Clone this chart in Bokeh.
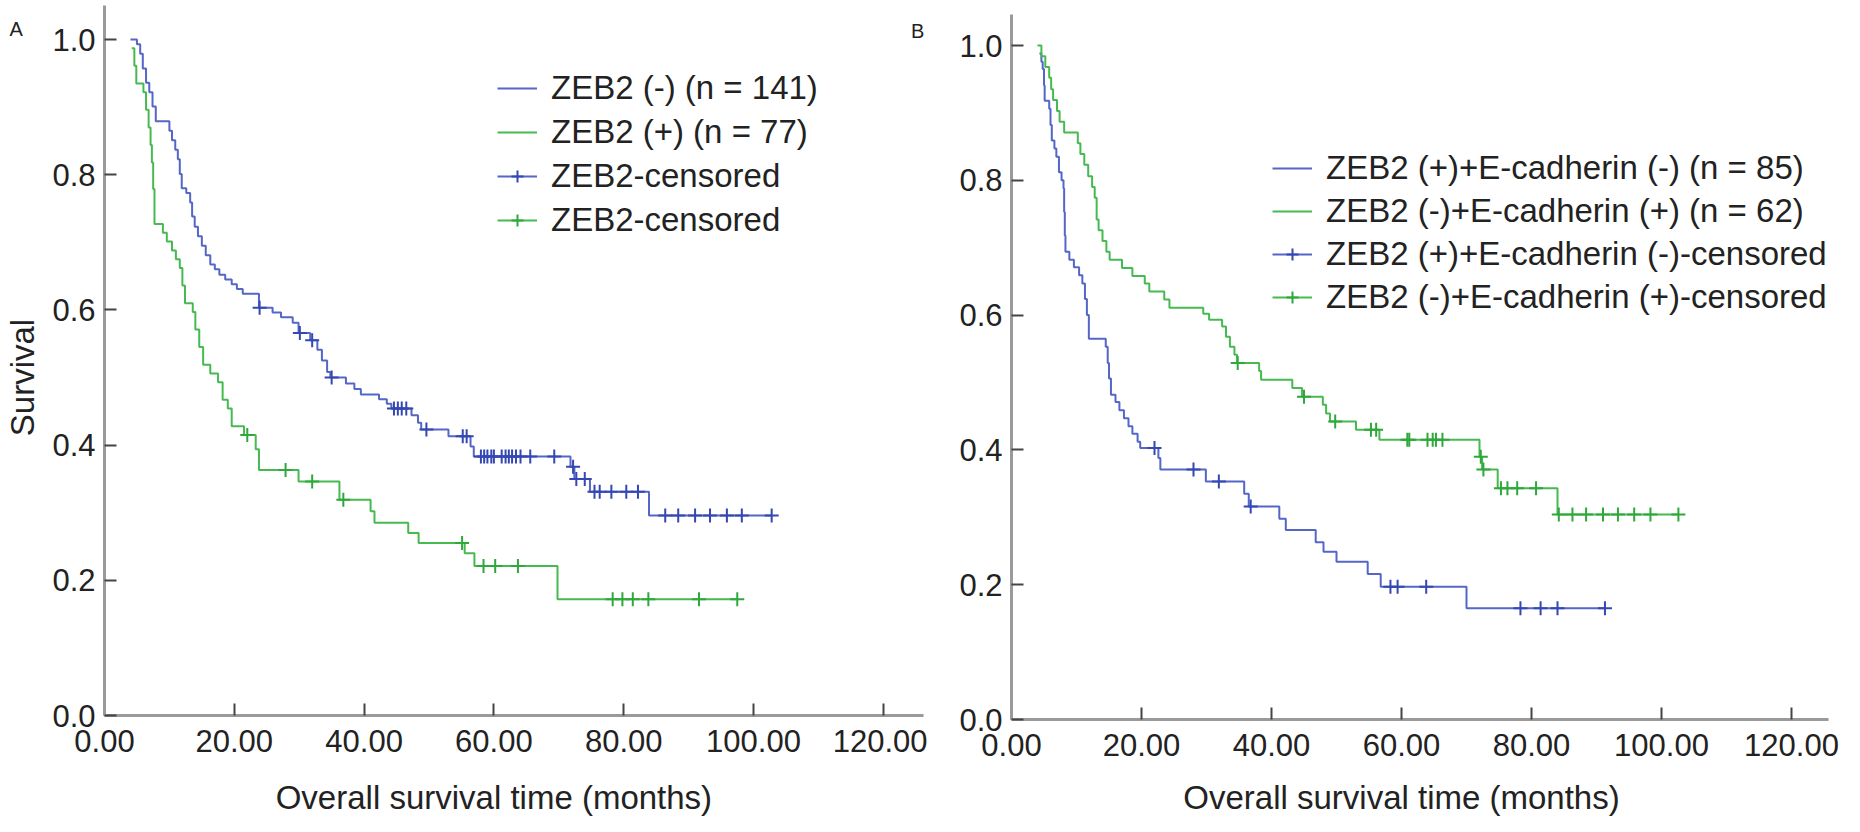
import numpy as np
from bokeh.plotting import figure
from bokeh.layouts import row
from bokeh.models import Range1d, FixedTicker, NumeralTickFormatter, Legend, LegendItem, Label
from bokeh.embed import file_html
from bokeh.resources import INLINE

# ---- Panel A: ZEB2 (-) n=141 (blue) / ZEB2 (+) n=77 (green)
a_neg_t = [4.0, 5.0, 5.5, 5.9, 6.4, 6.9, 7.4, 7.9, 10.0, 10.4, 10.9, 11.3, 11.6, 11.9, 12.6, 13.2, 13.5, 13.9,
           14.4, 15.0, 15.6, 16.3, 17.0, 17.7, 18.6, 19.6, 20.4, 21.3, 23.8, 25.9, 27.2, 29.0, 29.9, 31.7, 32.8,
           33.5, 34.3, 34.8, 37.2, 38.5, 39.5, 42.3, 43.5, 44.2, 47.3, 48.3, 48.8, 53.0, 56.4, 56.9, 71.8, 72.4,
           74.8, 83.9]
a_neg_s = [1.000, 0.993, 0.979, 0.957, 0.936, 0.922, 0.901, 0.879, 0.865, 0.851, 0.837, 0.823, 0.801, 0.780,
           0.773, 0.759, 0.738, 0.723, 0.709, 0.695, 0.681, 0.667, 0.660, 0.652, 0.645, 0.638, 0.631, 0.624,
           0.603, 0.596, 0.589, 0.581, 0.566, 0.555, 0.541, 0.525, 0.508, 0.500, 0.491, 0.483, 0.475, 0.468,
           0.461, 0.454, 0.444, 0.433, 0.423, 0.413, 0.398, 0.383, 0.368, 0.350, 0.331, 0.296]
a_neg_cens = [23.9, 30.1, 32.0, 35.0, 44.6, 45.2, 45.8, 46.5, 49.6, 55.2, 55.8, 58.0, 58.5, 59.0, 59.6, 60.0,
              61.2, 61.8, 62.3, 62.8, 63.4, 64.1, 65.6, 69.3, 72.2, 72.7, 74.0, 75.5, 76.3, 78.1, 80.4, 82.2,
              86.4, 88.4, 91.0, 93.3, 95.9, 98.2, 102.8]

a_pos_t = [4.2, 4.6, 4.9, 6.0, 6.4, 6.8, 7.1, 7.3, 7.5, 7.7, 9.0, 9.6, 10.4, 11.0, 11.6, 12.0, 12.4, 13.6, 14.0,
           14.6, 15.2, 16.3, 17.5, 18.2, 19.0, 19.6, 21.5, 23.3, 23.8, 29.9, 36.2, 41.0, 41.6, 46.8, 48.4, 55.5,
           57.0, 69.8]
a_pos_s = [0.987, 0.961, 0.935, 0.922, 0.896, 0.870, 0.844, 0.818, 0.779, 0.727, 0.714, 0.701, 0.688, 0.675,
           0.662, 0.636, 0.610, 0.597, 0.571, 0.545, 0.519, 0.506, 0.493, 0.467, 0.454, 0.428, 0.415, 0.394,
           0.363, 0.346, 0.319, 0.302, 0.285, 0.270, 0.255, 0.240, 0.221, 0.172]
a_pos_cens = [22.0, 27.9, 32.0, 36.8, 55.1, 58.4, 60.2, 63.7, 78.3, 79.8, 81.4, 83.8, 91.6, 97.5]

# ---- Panel B: ZEB2(+)E-cad(-) n=85 (blue) / ZEB2(-)E-cad(+) n=62 (green)
b_pos_t = [4.3, 4.6, 4.8, 5.0, 5.1, 5.8, 6.0, 6.2, 6.6, 6.9, 7.3, 7.7, 8.0, 8.1, 8.2, 8.3, 8.9, 9.6, 10.4, 10.9,
           11.3, 11.6, 11.9, 14.5, 14.8, 15.0, 15.3, 16.0, 16.6, 17.3, 18.0, 18.6, 19.4, 19.8, 22.6, 22.9, 29.9,
           35.8, 36.5, 41.2, 42.2, 46.8, 48.0, 50.0, 54.8, 56.8, 70.0]
b_pos_s = [0.988, 0.976, 0.965, 0.941, 0.918, 0.906, 0.882, 0.859, 0.847, 0.835, 0.812, 0.800, 0.788, 0.753,
           0.718, 0.694, 0.682, 0.671, 0.659, 0.647, 0.624, 0.600, 0.565, 0.553, 0.529, 0.506, 0.482, 0.471,
           0.459, 0.447, 0.435, 0.424, 0.412, 0.403, 0.388, 0.371, 0.353, 0.335, 0.316, 0.298, 0.281, 0.263,
           0.249, 0.234, 0.216, 0.197, 0.165]
b_pos_cens = [22.0, 28.0, 31.9, 36.8, 58.3, 59.4, 63.8, 78.3, 81.4, 84.0, 91.3]

b_neg_t = [4.0, 4.6, 5.2, 5.8, 6.1, 6.4, 7.0, 7.4, 8.1, 10.2, 10.6, 11.2, 11.8, 12.4, 12.8, 13.1, 13.4, 14.0, 14.6,
           15.1, 17.0, 18.6, 20.5, 21.2, 23.5, 24.3, 29.5, 30.4, 32.4, 33.0, 33.6, 34.3, 34.7, 38.1, 38.4, 43.2,
           44.7, 47.9, 48.4, 49.0, 53.0, 56.6, 72.0, 72.4, 74.8, 84.0]
b_neg_s = [1.000, 0.984, 0.968, 0.952, 0.935, 0.919, 0.903, 0.887, 0.871, 0.855, 0.839, 0.823, 0.806, 0.790,
           0.774, 0.742, 0.726, 0.710, 0.694, 0.682, 0.670, 0.658, 0.647, 0.635, 0.623, 0.611, 0.602, 0.593,
           0.583, 0.568, 0.553, 0.541, 0.529, 0.517, 0.504, 0.492, 0.479, 0.467, 0.454, 0.442, 0.430, 0.415,
           0.390, 0.371, 0.343, 0.304]
b_neg_cens = [34.8, 45.0, 49.8, 55.3, 56.1, 60.9, 61.2, 64.0, 64.8, 65.3, 66.3, 72.2, 72.6, 75.3, 76.3, 77.8,
              80.7, 84.2, 86.3, 88.4, 91.0, 93.3, 95.8, 98.3, 102.6]

x_ticks = [0, 20, 40, 60, 80, 100, 120]
y_ticks = [0.0, 0.2, 0.4, 0.6, 0.8, 1.0]

BLUE, BLUE_MARK = "#5466c6", "#3447b2"
GREEN, GREEN_MARK = "#46ba50", "#2fa83b"
FONT = "Liberation Sans"
H = 816


def surv_at(ts, ss, t):
    idx = np.searchsorted(ts, t, side="right") - 1
    return ss[max(idx, 0)]


def km_curve(p, ts, ss, cens, line_color, mark_color):
    end = max(cens[-1], ts[-1])
    step = p.step(ts + [end], ss + [ss[-1]], mode="after", line_color=line_color, line_width=2)
    cy = [surv_at(ts, ss, c) for c in cens]
    marks = p.scatter(cens, cy, marker="cross", size=14, line_width=2, line_color=mark_color)
    # zero-length line so the censored legend entry shows a line through the cross
    stub = p.line([cens[0], cens[0]], [cy[0], cy[0]], line_color=line_color, line_width=2)
    return step, [stub, marks]


def make_panel(width, x0_px, y0_px, px_x, px_y, x_end, y_end):
    # frame covers the whole figure; axes sit at x=0 / y=0 via fixed_location
    x_range = Range1d(-x0_px / px_x, (width - x0_px) / px_x)
    y_range = Range1d(-(H - y0_px) / px_y, y0_px / px_y)
    p = figure(width=width, height=H, x_range=x_range, y_range=y_range,
               output_backend="svg", toolbar_location=None, min_border=0)
    p.grid.visible = False
    p.outline_line_color = None
    p.background_fill_color = "white"
    p.border_fill_color = "white"
    p.xaxis.fixed_location = 0
    p.yaxis.fixed_location = 0
    p.xaxis.bounds = (0, x_end)
    p.yaxis.bounds = (0, y_end)
    p.xaxis.ticker = FixedTicker(ticks=x_ticks)
    p.yaxis.ticker = FixedTicker(ticks=y_ticks)
    p.xaxis.formatter = NumeralTickFormatter(format="0.00")
    p.yaxis.formatter = NumeralTickFormatter(format="0.0")
    for ax in (p.xaxis, p.yaxis):
        ax.axis_line_color = "#9a9a9a"
        ax.axis_line_width = 3
        ax.major_tick_in = 12
        ax.major_tick_out = 0
        ax.major_tick_line_color = "#444444"
        ax.major_tick_line_width = 2
        ax.minor_tick_line_color = None
        ax.major_label_text_font = FONT
        ax.major_label_text_font_size = "31px"
        ax.major_label_text_color = "#222222"
    p.xaxis.major_label_standoff = 14
    p.yaxis.major_label_standoff = 9
    return p


def add_text(p, x, y, text, size, angle=0.0):
    p.add_layout(Label(x=x, y=y, text=text, angle=angle, text_align="center", text_baseline="middle",
                       text_font=FONT, text_font_size=size, text_color="#222222"))


def add_legend(p, items, loc, spacing):
    leg = Legend(items=[LegendItem(label=lab, renderers=r if isinstance(r, list) else [r]) for lab, r in items],
                 location=loc, padding=0, margin=0, spacing=spacing, glyph_width=40, glyph_height=30,
                 label_height=30, label_standoff=14, border_line_color=None, background_fill_alpha=0,
                 label_text_font=FONT, label_text_font_size="33px", label_text_color="#222222")
    p.add_layout(leg)


# Panel A (page x 8..935): y axis at fig x 104, x axis at fig y 715
pa = make_panel(927, 104, 715, 6.49, 676, 126.2, 1.05)
sa1, ca1 = km_curve(pa, a_neg_t, a_neg_s, a_neg_cens, BLUE, BLUE_MARK)
sa2, ca2 = km_curve(pa, a_pos_t, a_pos_s, a_pos_cens, GREEN, GREEN_MARK)
add_legend(pa, [("ZEB2 (-) (n = 141)", sa1), ("ZEB2 (+) (n = 77)", sa2),
                ("ZEB2-censored", ca1), ("ZEB2-censored", ca2)], (497, 577), 6)
add_text(pa, 60, -0.121, "Overall survival time (months)", "33px")
add_text(pa, -12.6, 0.5, "Survival", "33px", np.pi / 2)
add_text(pa, -13.6, 1.016, "A", "20px")
add_text(pa, 125.3, 1.013, "B", "20px")

# Panel B (page x 935..1852): y axis at fig x 84, x axis at fig y 719
pb = make_panel(917, 84, 719, 6.5, 674, 125.7, 1.046)
sb1, cb1 = km_curve(pb, b_pos_t, b_pos_s, b_pos_cens, BLUE, BLUE_MARK)
sb2, cb2 = km_curve(pb, b_neg_t, b_neg_s, b_neg_cens, GREEN, GREEN_MARK)
add_legend(pb, [("ZEB2 (+)+E-cadherin (-) (n = 85)", sb1), ("ZEB2 (-)+E-cadherin (+) (n = 62)", sb2),
                ("ZEB2 (+)+E-cadherin (-)-censored", cb1), ("ZEB2 (-)+E-cadherin (+)-censored", cb2)],
           (345, 500), 5)
add_text(pb, 60, -0.115, "Overall survival time (months)", "33px")

layout = row(pa, pb)
open("out.html", "w").write(file_html(layout, INLINE))
